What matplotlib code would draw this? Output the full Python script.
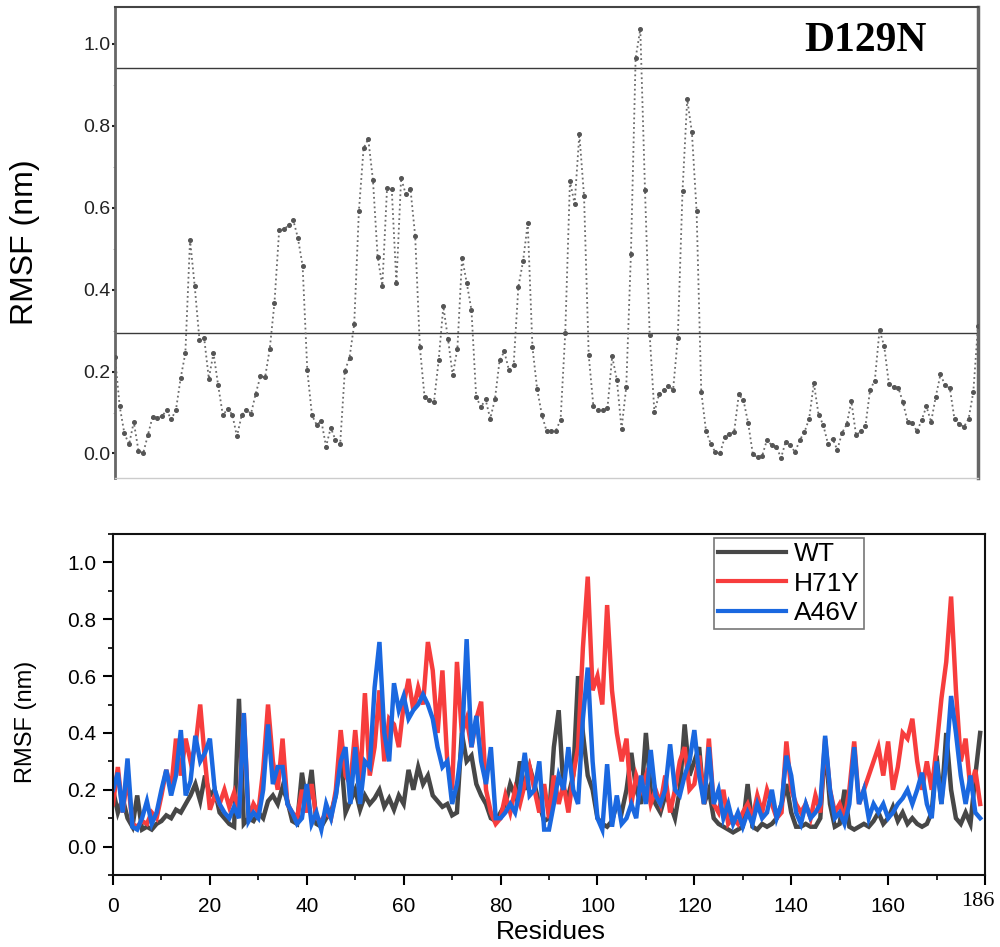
import matplotlib
matplotlib.use("Agg")
import matplotlib.pyplot as plt
from matplotlib.ticker import MultipleLocator

# ---- top panel: D129N RMSF per residue ----
d129n_rmsf = [
    0.235, 0.115, 0.049, 0.022, 0.077, 0.007, 0.000, 0.044, 0.089, 0.087,
    0.091, 0.105, 0.083, 0.107, 0.184, 0.245, 0.522, 0.408, 0.278, 0.283,
    0.183, 0.245, 0.166, 0.093, 0.109, 0.095, 0.042, 0.093, 0.107, 0.097,
    0.146, 0.188, 0.186, 0.256, 0.368, 0.545, 0.547, 0.557, 0.570, 0.526,
    0.458, 0.203, 0.093, 0.070, 0.079, 0.017, 0.063, 0.033, 0.022, 0.201,
    0.234, 0.315, 0.592, 0.745, 0.768, 0.667, 0.480, 0.410, 0.647, 0.646,
    0.415, 0.672, 0.633, 0.645, 0.531, 0.260, 0.138, 0.130, 0.125, 0.227,
    0.359, 0.280, 0.191, 0.256, 0.478, 0.416, 0.350, 0.139, 0.113, 0.132,
    0.085, 0.132, 0.227, 0.249, 0.203, 0.217, 0.407, 0.469, 0.562, 0.260,
    0.158, 0.095, 0.055, 0.054, 0.056, 0.082, 0.295, 0.665, 0.609, 0.780,
    0.629, 0.240, 0.115, 0.107, 0.107, 0.111, 0.237, 0.180, 0.060, 0.162,
    0.487, 0.965, 1.036, 0.643, 0.290, 0.101, 0.144, 0.154, 0.164, 0.156,
    0.283, 0.641, 0.865, 0.784, 0.592, 0.150, 0.056, 0.024, 0.003, 0.000,
    0.040, 0.048, 0.052, 0.144, 0.130, 0.074, -0.002, -0.009, -0.005, 0.033,
    0.020, 0.017, -0.011, 0.029, 0.020, 0.003, 0.033, 0.052, 0.085, 0.172,
    0.095, 0.070, 0.024, 0.036, 0.009, 0.050, 0.071, 0.127, 0.045, 0.054,
    0.067, 0.156, 0.178, 0.301, 0.262, 0.170, 0.162, 0.161, 0.125, 0.077,
    0.074, 0.054, 0.082, 0.115, 0.077, 0.139, 0.193, 0.166, 0.159, 0.083,
    0.072, 0.065, 0.085, 0.150, 0.311,
]
d129n_residues = list(range(1, len(d129n_rmsf) + 1))
ref_lines = [0.94, 0.293]

# ---- bottom panel: WT / H71Y / A46V ----
residues = list(range(0, 180))
wt = [
    0.20, 0.12, 0.17, 0.10, 0.07, 0.18, 0.06, 0.07, 0.06, 0.08,
    0.09, 0.11, 0.10, 0.13, 0.12, 0.15, 0.18, 0.22, 0.16, 0.25,
    0.18, 0.20, 0.12, 0.10, 0.08, 0.07, 0.52, 0.08, 0.10, 0.09,
    0.12, 0.10, 0.16, 0.18, 0.15, 0.21, 0.16, 0.09, 0.08, 0.26,
    0.15, 0.27, 0.08, 0.07, 0.10, 0.12, 0.18, 0.33, 0.12, 0.16,
    0.20, 0.13, 0.18, 0.15, 0.17, 0.20, 0.14, 0.17, 0.13, 0.18,
    0.15, 0.27, 0.20, 0.28, 0.22, 0.25, 0.18, 0.16, 0.14, 0.15,
    0.11, 0.12, 0.40, 0.30, 0.32, 0.22, 0.18, 0.15, 0.10, 0.09,
    0.12, 0.15, 0.22, 0.18, 0.30, 0.20, 0.28, 0.22, 0.15, 0.09,
    0.10, 0.35, 0.48, 0.20, 0.18, 0.25, 0.60, 0.40, 0.25, 0.20,
    0.10, 0.08, 0.07, 0.09, 0.15, 0.12, 0.20, 0.33, 0.20, 0.15,
    0.40, 0.20, 0.15, 0.12, 0.18, 0.15, 0.10, 0.20, 0.43, 0.25,
    0.30, 0.35, 0.15, 0.20, 0.10, 0.08, 0.07, 0.06, 0.05, 0.06,
    0.07, 0.22, 0.07, 0.06, 0.08, 0.07, 0.08, 0.10, 0.15, 0.22,
    0.12, 0.07, 0.07, 0.08, 0.07, 0.07, 0.10, 0.36, 0.15, 0.07,
    0.08, 0.20, 0.07, 0.06, 0.07, 0.08, 0.07, 0.09, 0.12, 0.08,
    0.10, 0.14, 0.09, 0.12, 0.08, 0.10, 0.08, 0.07, 0.08, 0.12,
    0.32, 0.15, 0.40, 0.20, 0.10, 0.08, 0.12, 0.08, 0.25, 0.40,
]
h71y = [
    0.15, 0.28, 0.12, 0.25, 0.08, 0.07, 0.09, 0.08, 0.12, 0.10,
    0.18, 0.27, 0.20, 0.38, 0.25, 0.38, 0.30, 0.35, 0.50, 0.30,
    0.13, 0.18, 0.15, 0.20, 0.14, 0.19, 0.12, 0.47, 0.10, 0.15,
    0.12, 0.27, 0.50, 0.30, 0.20, 0.38, 0.15, 0.12, 0.10, 0.20,
    0.12, 0.22, 0.10, 0.09, 0.12, 0.10, 0.20, 0.41, 0.25, 0.22,
    0.41, 0.22, 0.54, 0.25, 0.35, 0.55, 0.30, 0.45, 0.43, 0.35,
    0.50, 0.59, 0.48, 0.56, 0.50, 0.72, 0.62, 0.40, 0.62, 0.30,
    0.20, 0.65, 0.40, 0.45, 0.35, 0.45, 0.51, 0.20, 0.12, 0.08,
    0.10, 0.18, 0.12, 0.20, 0.15, 0.22, 0.28, 0.20, 0.12, 0.22,
    0.10, 0.25, 0.15, 0.22, 0.12, 0.25, 0.35, 0.70, 0.95, 0.55,
    0.60, 0.50, 0.85, 0.55, 0.40, 0.30, 0.38, 0.15, 0.25, 0.20,
    0.25, 0.15, 0.20, 0.15, 0.25, 0.12, 0.20, 0.30, 0.35, 0.20,
    0.22, 0.32, 0.15, 0.38, 0.15, 0.12, 0.20, 0.08, 0.10, 0.08,
    0.12, 0.15, 0.10, 0.18, 0.12, 0.20, 0.15, 0.10, 0.12, 0.37,
    0.20, 0.15, 0.12, 0.15, 0.10, 0.18, 0.12, 0.38, 0.20, 0.12,
    0.15, 0.10, 0.20, 0.37, 0.15, 0.20, 0.25, 0.30, 0.35, 0.25,
    0.37, 0.20, 0.28, 0.40, 0.38, 0.45, 0.30, 0.20, 0.30, 0.20,
    0.35, 0.52, 0.65, 0.88, 0.55, 0.30, 0.38, 0.20, 0.27, 0.15,
]
a46v = [
    0.20, 0.26, 0.12, 0.31, 0.07, 0.06, 0.10, 0.16, 0.08, 0.12,
    0.20, 0.27, 0.18, 0.25, 0.41, 0.18, 0.23, 0.39, 0.30, 0.33,
    0.38, 0.20, 0.15, 0.12, 0.10, 0.14, 0.10, 0.47, 0.09, 0.12,
    0.10, 0.20, 0.43, 0.22, 0.28, 0.28, 0.15, 0.12, 0.08, 0.10,
    0.22, 0.08, 0.12, 0.06, 0.15, 0.10, 0.18, 0.30, 0.35, 0.15,
    0.35, 0.15, 0.30, 0.28, 0.56, 0.72, 0.40, 0.30, 0.575, 0.48,
    0.53, 0.45, 0.48, 0.50, 0.535, 0.50, 0.45, 0.35, 0.28, 0.30,
    0.15, 0.22, 0.35, 0.73, 0.35, 0.46, 0.30, 0.22, 0.35, 0.10,
    0.10, 0.12, 0.15, 0.12, 0.20, 0.33, 0.18, 0.20, 0.30, 0.06,
    0.06, 0.15, 0.25, 0.20, 0.35, 0.20, 0.15, 0.45, 0.63, 0.30,
    0.10, 0.06, 0.29, 0.07, 0.18, 0.08, 0.10, 0.15, 0.10, 0.25,
    0.15, 0.34, 0.18, 0.15, 0.20, 0.36, 0.20, 0.18, 0.25, 0.30,
    0.41, 0.25, 0.15, 0.35, 0.15, 0.20, 0.10, 0.15, 0.08, 0.12,
    0.07, 0.12, 0.08, 0.15, 0.10, 0.12, 0.20, 0.10, 0.15, 0.32,
    0.25, 0.12, 0.08, 0.15, 0.10, 0.12, 0.15, 0.39, 0.20, 0.10,
    0.12, 0.08, 0.15, 0.35, 0.15, 0.20, 0.10, 0.15, 0.12, 0.15,
    0.10, 0.12, 0.15, 0.17, 0.20, 0.15, 0.20, 0.26, 0.15, 0.10,
    0.30, 0.15, 0.30, 0.53, 0.40, 0.25, 0.15, 0.25, 0.12, 0.10,
]
series_names = ["WT", "H71Y", "A46V"]
series_colors = ["#474747", "#f73d3d", "#1a68e0"]
x_ticks = [0, 20, 40, 60, 80, 100, 120, 140, 160, 180]
x_ticklabels = ["0", "20", "40", "60", "80", "100", "120", "140", "160", ""]

SANS = "Liberation Sans"
SERIF = "Liberation Serif"

fig = plt.figure(figsize=(10, 9.47), dpi=100)
fig.patch.set_facecolor("white")

# ---------------- top panel ----------------
ax1 = fig.add_axes([0.115, 0.4952, 0.863, 0.4974])
ax1.plot(d129n_residues, d129n_rmsf, linestyle=":", color="#6b6b6b", lw=1.3,
         marker="o", ms=2.6, mfc="#555555", mec="#555555", zorder=3)
for yl in ref_lines:
    ax1.axhline(yl, color="#3a3a3a", lw=1.0, zorder=2)
ax1.set_xlim(d129n_residues[0], d129n_residues[-1])
ax1.set_ylim(-0.06, 1.09)
ax1.set_xticks([])
ax1.yaxis.set_major_locator(MultipleLocator(0.2))
ax1.yaxis.set_minor_locator(MultipleLocator(0.1))
ax1.tick_params(axis="y", which="major", length=2.5, width=1.5, pad=1,
                labelsize=14, colors="#222222")
ax1.tick_params(axis="y", which="minor", length=1.5, width=0.6, color="#aaaaaa")
for lab in ax1.get_yticklabels():
    lab.set_family(SANS)
ax1.set_ylabel("RMSF (nm)", fontsize=23, family=SANS)
ax1.yaxis.set_label_coords(-0.087, 0.5)
ax1.spines["left"].set_color("#666666")
ax1.spines["left"].set_linewidth(2)
ax1.spines["top"].set_color("#444444")
ax1.spines["top"].set_linewidth(1.5)
ax1.spines["right"].set_color("#666666")
ax1.spines["right"].set_linewidth(2.5)
ax1.spines["bottom"].set_color("#cccccc")
ax1.spines["bottom"].set_linewidth(1)
ax1.text(0.94, 0.928, "D129N", transform=ax1.transAxes, ha="right",
         va="center", fontsize=30, fontweight="bold", family=SERIF)

# ---------------- bottom panel ----------------
ax2 = fig.add_axes([0.113, 0.0760, 0.872, 0.3601])
for name, ys, col in zip(series_names, [wt, h71y, a46v], series_colors):
    ax2.plot(residues, ys, color=col, lw=3.2, label=name, solid_joinstyle="miter")
ax2.set_xlim(0, 180)
ax2.set_ylim(-0.1, 1.1)
ax2.set_xticks(x_ticks)
ax2.set_xticklabels(x_ticklabels)
ax2.xaxis.set_minor_locator(MultipleLocator(10))
ax2.yaxis.set_major_locator(MultipleLocator(0.2))
ax2.yaxis.set_minor_locator(MultipleLocator(0.1))
ax2.tick_params(which="major", length=7, width=1.5, labelsize=15, pad=5)
ax2.tick_params(axis="x", which="major", pad=9)
ax2.tick_params(which="minor", length=3.5, width=1.2)
for lab in ax2.get_xticklabels() + ax2.get_yticklabels():
    lab.set_family(SANS)
for sp in ax2.spines.values():
    sp.set_linewidth(1.5)
    sp.set_color("#111111")
ax2.set_ylabel("RMSF (nm)", fontsize=17, family=SANS)
ax2.yaxis.set_label_coords(-0.087, 0.45)
ax2.text(178.5, -0.158, "186", ha="center", va="top",
         fontsize=16, family=SERIF)
fig.text(0.551, 0.003, "Residues", ha="center", va="bottom",
         fontsize=19, family=SANS)
leg = ax2.legend(loc="upper left", bbox_to_anchor=(0.68, 1.012),
                 frameon=True, fancybox=False, handlelength=2.6,
                 handletextpad=0.3, borderpad=0.15, labelspacing=0.22,
                 borderaxespad=0.3, prop={"family": SANS, "size": 19})
leg.get_frame().set_edgecolor("#555555")
leg.get_frame().set_linewidth(1.2)
for line in leg.get_lines():
    line.set_linewidth(3)

fig.savefig("out.png", dpi=100)
